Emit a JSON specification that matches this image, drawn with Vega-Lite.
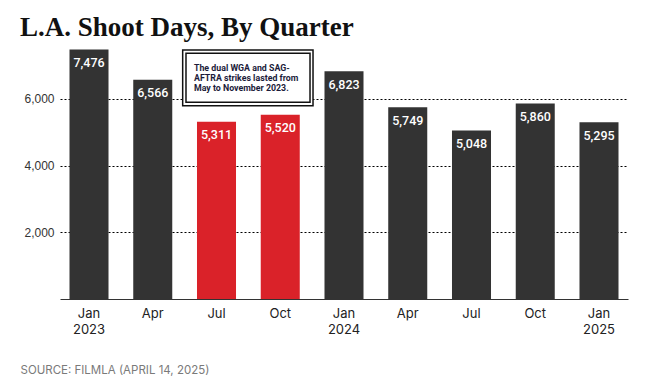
{
  "$schema": "https://vega.github.io/schema/vega-lite/v6.json",
  "width": 568,
  "height": 267,
  "autosize": {"type": "none"},
  "padding": {"left": 60, "top": 32, "right": 43, "bottom": 88},
  "background": "white",
  "title": {
    "text": "L.A. Shoot Days, By Quarter",
    "anchor": "start",
    "frame": "group",
    "dx": -40,
    "dy": 31,
    "offset": 0,
    "baseline": "alphabetic",
    "font": "Liberation Serif",
    "fontSize": 27,
    "fontWeight": "bold",
    "color": "#111111"
  },
  "config": {"view": {"stroke": null}},
  "datasets": {
    "shoot": [
      {"quarter": "Jan 2023", "days": 7476, "period": "normal"},
      {"quarter": "Apr 2023", "days": 6566, "period": "normal"},
      {"quarter": "Jul 2023", "days": 5311, "period": "strike"},
      {"quarter": "Oct 2023", "days": 5520, "period": "strike"},
      {"quarter": "Jan 2024", "days": 6823, "period": "normal"},
      {"quarter": "Apr 2024", "days": 5749, "period": "normal"},
      {"quarter": "Jul 2024", "days": 5048, "period": "normal"},
      {"quarter": "Oct 2024", "days": 5860, "period": "normal"},
      {"quarter": "Jan 2025", "days": 5295, "period": "normal"}
    ]
  },
  "layer": [
    {
      "data": {"name": "shoot"},
      "mark": {"type": "bar"},
      "encoding": {
        "x": {
          "field": "quarter",
          "type": "nominal",
          "sort": null,
          "scale": {
            "domain": ["Jan 2023", "Apr 2023", "Jul 2023", "Oct 2023", "Jan 2024", "Apr 2024", "Jul 2024", "Oct 2024", "Jan 2025"],
            "paddingInner": 0.388,
            "paddingOuter": 0.149
          },
          "axis": {
            "title": "SOURCE: FILMLA (APRIL 14, 2025)",
            "titleX": -40,
            "titleY": 71,
            "titleAlign": "left",
            "titleBaseline": "middle",
            "titleFont": "Inter",
            "titleFontSize": 11.5,
            "titleFontWeight": "normal",
            "titleColor": "#7a7a7a",
            "labelAngle": 0,
            "labelExpr": "split(datum.label, ' ')[0] == 'Jan' ? split(datum.label, ' ') : split(datum.label, ' ')[0]",
            "labelFont": "Inter",
            "labelFontSize": 13,
            "labelColor": "#222222",
            "labelPadding": 8,
            "labelLineHeight": 16.7,
            "ticks": false,
            "domainColor": "#333333",
            "domainWidth": 1.2
          }
        },
        "y": {
          "field": "days",
          "type": "quantitative",
          "scale": {"domain": [0, 8000]},
          "axis": {
            "title": null,
            "values": [2000, 4000, 6000],
            "format": ",d",
            "domain": false,
            "ticks": false,
            "labelPadding": 6,
            "labelFont": "Liberation Sans",
            "labelFontSize": 12,
            "labelColor": "#333333",
            "gridColor": "#000000",
            "gridDash": [2, 2],
            "gridWidth": 1,
            "gridOpacity": 1
          }
        },
        "color": {
          "field": "period",
          "type": "nominal",
          "scale": {"domain": ["normal", "strike"], "range": ["#333333", "#da2229"]},
          "legend": null
        }
      }
    },
    {
      "data": {"name": "shoot"},
      "mark": {"type": "text", "baseline": "middle", "align": "center", "dy": 13.5, "color": "white", "font": "Roboto", "fontWeight": 500, "fontSize": 12.5},
      "encoding": {
        "x": {"field": "quarter", "type": "nominal", "sort": null},
        "y": {"field": "days", "type": "quantitative"},
        "text": {"field": "days", "type": "quantitative", "format": ","}
      }
    },
    {
      "data": {"values": [{"from": "Jul 2023", "to": "Oct 2023", "top": 7461, "bottom": 5792}]},
      "mark": {"type": "rect", "fill": "white", "stroke": "#111111", "strokeWidth": 1.5},
      "encoding": {
        "x": {"field": "from", "type": "nominal", "bandPosition": -0.367},
        "x2": {"field": "to", "bandPosition": 1.34},
        "y": {"field": "top", "type": "quantitative"},
        "y2": {"field": "bottom"}
      }
    },
    {
      "data": {"values": [{"from": "Jul 2023", "to": "Oct 2023", "top": 7362, "bottom": 5894}]},
      "mark": {"type": "rect", "fill": null, "fillOpacity": 0, "stroke": "#111111", "strokeWidth": 1.5},
      "encoding": {
        "x": {"field": "from", "type": "nominal", "bandPosition": -0.282},
        "x2": {"field": "to", "bandPosition": 1.263},
        "y": {"field": "top", "type": "quantitative"},
        "y2": {"field": "bottom"}
      }
    },
    {
      "data": {"values": [{"at": "Jul 2023", "level": 6930, "note": "The dual WGA and SAG-\nAFTRA strikes lasted from\nMay to November 2023."}]},
      "mark": {"type": "text", "align": "left", "baseline": "middle", "dx": -3, "lineBreak": "\n", "lineHeight": 10.3, "font": "Roboto", "fontWeight": "bold", "fontSize": 8.8, "color": "#1b1b3a"},
      "encoding": {
        "x": {"field": "at", "type": "nominal", "bandPosition": 0},
        "y": {"field": "level", "type": "quantitative"},
        "text": {"field": "note", "type": "nominal"}
      }
    }
  ]
}
